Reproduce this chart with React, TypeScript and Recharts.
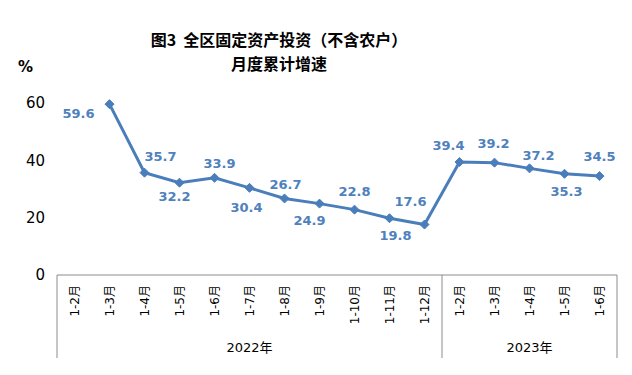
import React from 'react';
import { LineChart, Line, XAxis, YAxis, LabelList } from 'recharts';

const categories = ['1-2月','1-3月','1-4月','1-5月','1-6月','1-7月','1-8月','1-9月','1-10月','1-11月','1-12月','1-2月','1-3月','1-4月','1-5月','1-6月'];
const growth: (number | null)[] = [null, 59.6, 35.7, 32.2, 33.9, 30.4, 26.7, 24.9, 22.8, 19.8, 17.6, 39.4, 39.2, 37.2, 35.3, 34.5];
const yearGroups = [
  { label: '2022年', count: 11 },
  { label: '2023年', count: 5 },
];
const yTicks = [0, 20, 40, 60];
// label offset relative to its point (dx, dy)
const labelOffsets: [number, number][] = [
  [0, 0], [-31, 9], [16, -16], [-5, 14], [5, -14], [-3, 20], [1, -14], [-10, 17], [0, -18], [6, 17], [-14, -23],
  [-11, -17], [-1, -19], [9, -13], [2, 18], [0, -20],
];

const data = categories.map((c, i) => ({ key: i, cat: c, value: growth[i] }));

const LINE = '#4a7ebb';
const LABEL = '#4f81bd';
const AXIS = '#8c8c8c';
const FONT = '"DejaVu Sans", "Noto Sans CJK SC", sans-serif';

const groupStarts: number[] = [];
const groupCenters: { idx: number; label: string; even: boolean }[] = [];
{
  let s = 0;
  yearGroups.forEach((g) => {
    groupStarts.push(s);
    const mid = s + Math.floor(g.count / 2);
    groupCenters.push({ idx: g.count % 2 === 0 ? mid - 1 : mid, label: g.label, even: g.count % 2 === 0 });
    s += g.count;
  });
}
const lastIndex = categories.length - 1;

const XTick = (props: any) => {
  const { x, y, payload, index } = props;
  const half = payload && payload.offset ? payload.offset : 17.5;
  const ty = y + 10;
  const gc = groupCenters.find((g) => g.idx === index);
  return (
    <g>
      <text
        x={x}
        y={ty}
        transform={`rotate(-90, ${x}, ${ty})`}
        textAnchor="end"
        dominantBaseline="central"
        fontSize={12}
        fontFamily={FONT}
        fill="#000"
      >
        {categories[index]}
      </text>
      {groupStarts.includes(index) && (
        <line x1={x - half} x2={x - half} y1={y} y2={y + 83} stroke={AXIS} strokeWidth={1} />
      )}
      {index === lastIndex && (
        <line x1={x + half} x2={x + half} y1={y} y2={y + 83} stroke={AXIS} strokeWidth={1} />
      )}
      {gc && (
        <text
          x={gc.even ? x + half : x}
          y={y + 72}
          textAnchor="middle"
          dominantBaseline="central"
          fontSize={13}
          fontFamily={FONT}
          fill="#000"
        >
          {gc.label}
        </text>
      )}
    </g>
  );
};

const Diamond = (props: any) => {
  const { cx, cy, index } = props;
  if (cx == null || cy == null || growth[index] == null) return <g key={`d${index}`} />;
  const r = 4.5;
  return (
    <polygon
      key={`d${index}`}
      points={`${cx},${cy - r} ${cx + r},${cy} ${cx},${cy + r} ${cx - r},${cy}`}
      fill={LINE}
      stroke={LINE}
    />
  );
};

const ValueLabel = (props: any) => {
  const { x, y, value, index } = props;
  if (value == null || x == null || y == null) return null;
  const [dx, dy] = labelOffsets[index] || [0, -15];
  return (
    <text
      x={x + dx}
      y={y + dy}
      textAnchor="middle"
      dominantBaseline="central"
      fontSize={13}
      fontWeight="bold"
      fontFamily={FONT}
      fill={LABEL}
    >
      {Number(value).toFixed(1)}
    </text>
  );
};

export default function App() {
  return (
    <div style={{ position: 'absolute', left: 0, top: 0, width: 632, height: 375, background: '#fff' }}>
      <div
        style={{
          position: 'absolute',
          left: 0,
          top: 27,
          width: 558,
          textAlign: 'center',
          fontFamily: '"Noto Sans CJK SC", sans-serif',
          fontWeight: 'bold',
          fontSize: 16,
          lineHeight: '24px',
          color: '#000',
        }}
      >
        <div>图3&nbsp;&nbsp;全区固定资产投资（不含农户）</div>
        <div>月度累计增速</div>
      </div>
      <div
        style={{
          position: 'absolute',
          left: 18,
          top: 58,
          fontFamily: FONT,
          fontWeight: 'bold',
          fontSize: 15,
          color: '#000',
        }}
      >
        %
      </div>
      <LineChart
        width={632}
        height={375}
        data={data}
        margin={{ top: 103, right: 15, bottom: 10, left: 0 }}
      >
        <XAxis
          dataKey="key"
          type="category"
          scale="band"
          height={90}
          axisLine={{ stroke: AXIS, strokeWidth: 1 }}
          tickLine={false}
          tickSize={0}
          tickMargin={0}
          interval={0}
          tick={<XTick />}
        />
        <YAxis
          width={57}
          domain={[0, 60]}
          ticks={yTicks}
          axisLine={false}
          tickLine={false}
          tickSize={0}
          tickMargin={12}
          tick={{ fontSize: 15, fill: '#000', fontFamily: FONT }}
        />
        <Line
          type="linear"
          dataKey="value"
          stroke={LINE}
          strokeWidth={3}
          dot={<Diamond />}
          activeDot={false}
          isAnimationActive={false}
          connectNulls={false}
        >
          <LabelList dataKey="value" content={<ValueLabel />} />
        </Line>
      </LineChart>
    </div>
  );
}
